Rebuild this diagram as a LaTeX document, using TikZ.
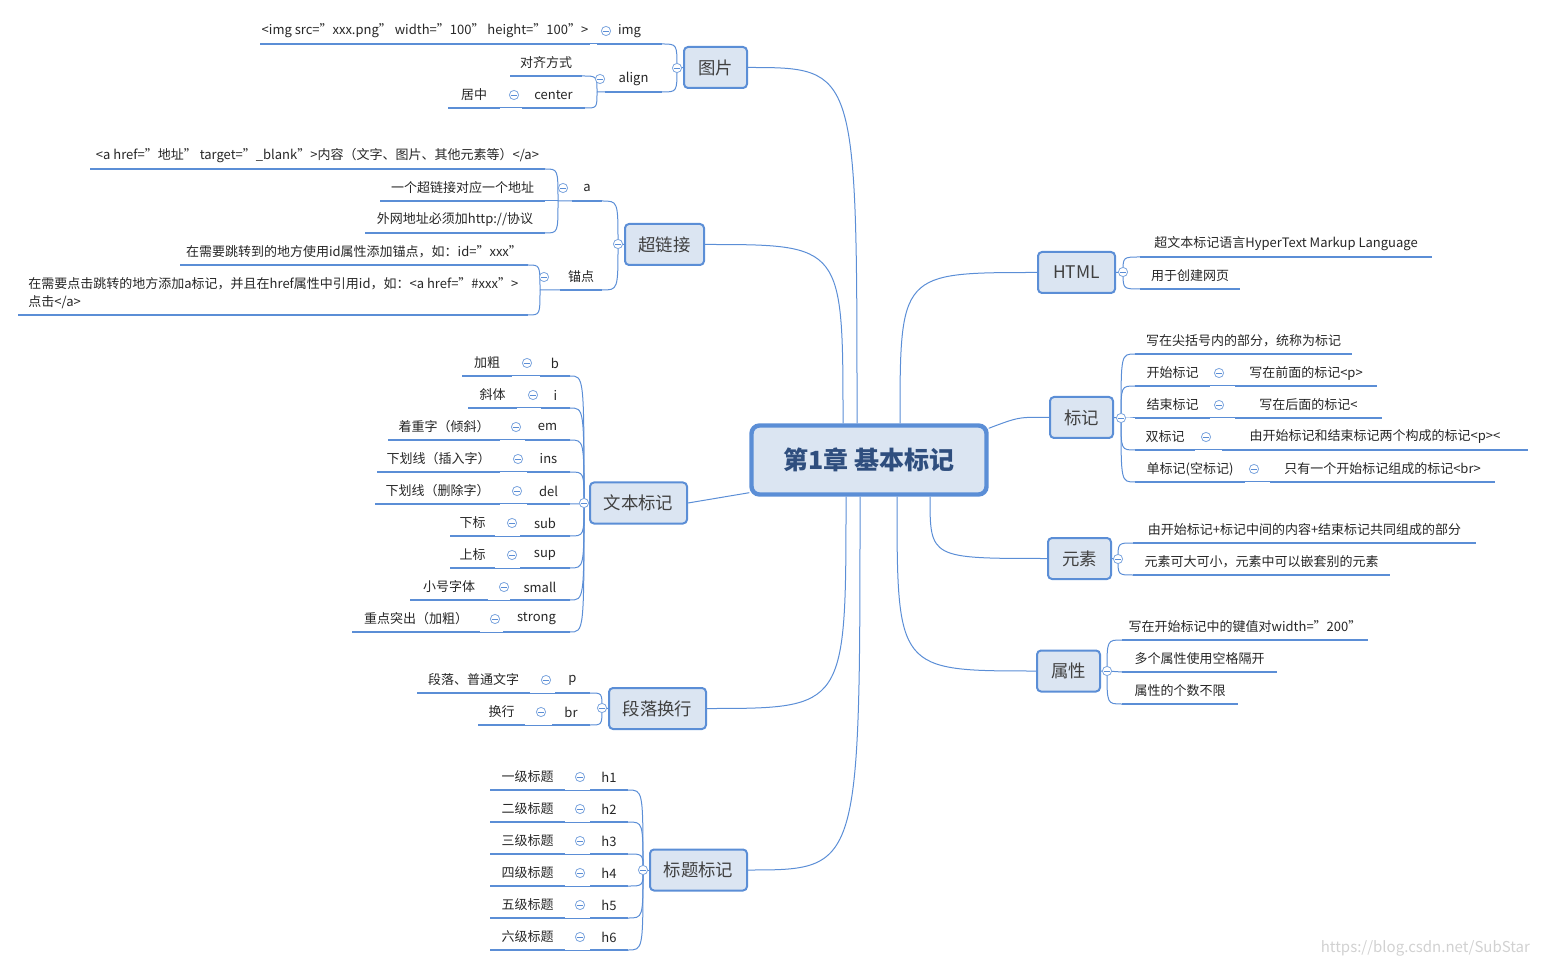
\documentclass[tikz,border=0pt]{standalone}
\usepackage{fontspec}
\setmainfont{Noto Sans CJK SC}
\usetikzlibrary{calc,positioning}
\definecolor{mline}{HTML}{5B8ED6}
\definecolor{mfill}{HTML}{DBE5F2}
\definecolor{mtext}{HTML}{2F4E7E}
% leaf: name, x1, x2, y of line, text
\newcommand{\leaf}[5]{%
  \coordinate (#1-l) at (#2,#4);
  \coordinate (#1-r) at (#3,#4);
  \draw[uline] (#1-l) -- (#1-r);
  \node[ltext] (#1) at ({(#2+#3)/2},{#4-13}) {#5};
}
\newcommand{\fold}[3]{\node[foldc] (#1) at (#2,#3) {};}

\begin{document}
\begin{tikzpicture}[x=0.5pt,y=-0.5pt]
  \tikzstyle{uline} = [draw=mline, line width=1.4pt]
  \tikzstyle{cline} = [draw=mline, line width=0.5pt]
  \tikzstyle{ltext} = [inner sep=0pt, font=\fontsize{6.5}{8}\selectfont, text=black!85]
  \tikzstyle{topic} = [draw=mline, fill=mfill, line width=1pt, rounded corners=2pt, inner sep=0pt,
                       minimum height=20.5pt, font=\fontsize{8.7}{10}\selectfont, text=black!75]
  \tikzstyle{central} = [draw=mline, fill=mfill, line width=2.2pt, rounded corners=4pt, inner sep=0pt,
                       minimum width=117.5pt, minimum height=34.5pt, font=\bfseries\fontsize{12.5}{14}\selectfont, text=mtext]
  \tikzstyle{foldc} = [circle, draw=mline!80, fill=white, line width=0.4pt, inner sep=0pt, minimum size=4.6pt,
                       path picture={\draw[mline, line width=0.4pt] ([xshift=1pt]path picture bounding box.west) -- ([xshift=-1pt]path picture bounding box.east);}]

  \useasboundingbox (0,0) rectangle (1546,967);

  % central topic and main topics
  \node[central] (ctr) at (869,460) {第1章 基本标记};
  \node[topic, minimum width=31.5pt] (tpic) at (715.5,67.5) {图片};
  \node[topic, minimum width=39.5pt] (tlnk) at (664.5,244.5) {超链接};
  \node[topic, minimum width=48.5pt] (ttxt) at (638.5,503) {文本标记};
  \node[topic, minimum width=48.5pt] (tpar) at (657.5,708.5) {段落换行};
  \node[topic, minimum width=48.5pt] (thd) at (698.5,870) {标题标记};
  \node[topic, minimum width=38.5pt] (thtm) at (1076.5,272.5) {HTML};
  \node[topic, minimum width=31.5pt] (tmk) at (1081.5,417.5) {标记};
  \node[topic, minimum width=31.5pt] (tel) at (1079.5,558.5) {元素};
  \node[topic, minimum width=31.5pt] (tat) at (1068.5,671) {属性};

  \coordinate (s-pic) at ([xshift=-6pt]ctr.north);
  \coordinate (s-lnk) at ([xshift=-13pt]ctr.north);
  \coordinate (s-txt) at ([yshift=2pt]ctr.south west);
  \coordinate (s-par) at ([xshift=-11.5pt]ctr.south);
  \coordinate (s-hd)  at ([xshift=-4.5pt]ctr.south);
  \coordinate (s-htm) at ([xshift=15.5pt]ctr.north);
  \coordinate (s-mk)  at ([yshift=-2.5pt]ctr.north east);
  \coordinate (s-el)  at ([xshift=30.5pt]ctr.south);
  \coordinate (s-at)  at ([xshift=14pt]ctr.south);

  \draw[cline] (s-pic) .. controls (s-pic |- tpic.east) .. (tpic.east);
  \draw[cline] (s-lnk) .. controls (s-lnk |- tlnk.east) .. (tlnk.east);
  \draw[cline] (s-txt) .. controls ($(s-txt)!0.5!(ttxt.east)$) .. (ttxt.east);
  \draw[cline] (s-par) .. controls (s-par |- tpar.east) .. (tpar.east);
  \draw[cline] (s-hd) .. controls (s-hd |- thd.east) .. (thd.east);
  \draw[cline] (s-htm) .. controls (s-htm |- thtm.west) .. (thtm.west);
  \draw[cline] (s-mk) .. controls ($(s-mk)!0.5!(tmk.west)+(0,-6)$) .. (tmk.west);
  \draw[cline] (s-el) .. controls (s-el |- tel.west) .. (tel.west);
  \draw[cline] (s-at) .. controls (s-at |- tat.west) .. (tat.west);

  % 图片
  \leaf{img}{597}{662}{44}{img}
  \leaf{imgtag}{260}{590}{44}{<img src="xxx.png" width="100" height="100">}
  \leaf{align}{605}{662}{92}{align}
  \leaf{alnote}{510}{582}{76}{对齐方式}
  \leaf{center}{522}{585}{108}{center}
  \leaf{juzhong}{448}{500}{108}{居中}
  \coordinate (j-align) at (597,92);
  \draw[cline] (imgtag-r) -- (img-l);
  \draw[cline] (juzhong-r) -- (center-l);
  \draw[cline] (alnote-r) .. controls (j-align |- alnote-r) .. (j-align) -- (align-l);
  \draw[cline] (center-r) .. controls (j-align |- center-r) .. (j-align);
  \coordinate (j-pic) at (677,68);
  \draw[cline] (img-r) .. controls (j-pic |- img-r) .. (j-pic) -- (tpic.west);
  \draw[cline] (align-r) .. controls (j-pic |- align-r) .. (j-pic);

  % 超链接
  \leaf{a}{572}{602}{201}{a}
  \leaf{atag}{90}{545}{169}{<a href="地址" target="\_blank">内容（文字、图片、其他元素等）</a>}
  \leaf{aone}{380}{545}{201}{一个超链接对应一个地址}
  \leaf{ahttp}{365}{545}{233}{外网地址必须加http://协议}
  \leaf{anchor}{560}{602}{290}{锚点}
  \leaf{anid}{180}{528}{265}{在需要跳转到的地方使用id属性添加锚点，如：id="xxx"}
  \coordinate (anref-l) at (18,315);
  \coordinate (anref-r) at (528,315);
  \draw[uline] (anref-l) -- (anref-r);
  \node[ltext, align=left, anchor=north west] (anref) at (28,277)
    {在需要点击跳转的地方添加a标记，并且在href属性中引用id，如：<a href="\#xxx">\\[1pt]点击</a>};
  \coordinate (j-a) at (558,201);
  \draw[cline] (atag-r) .. controls (j-a |- atag-r) .. (j-a) -- (a-l);
  \draw[cline] (aone-r) -- (j-a);
  \draw[cline] (ahttp-r) .. controls (j-a |- ahttp-r) .. (j-a);
  \coordinate (j-an) at (540,290);
  \draw[cline] (anid-r) .. controls (j-an |- anid-r) .. (j-an) -- (anchor-l);
  \draw[cline] (anref-r) .. controls (j-an |- anref-r) .. (j-an);
  \coordinate (j-lnk) at (618,244);
  \draw[cline] (a-r) .. controls (j-lnk |- a-r) .. (j-lnk) -- (tlnk.west);
  \draw[cline] (anchor-r) .. controls (j-lnk |- anchor-r) .. (j-lnk);

  % 文本标记
  \coordinate (j-txt) at (584,503);
  \draw[cline] (j-txt) -- (ttxt.west);
  \foreach \tg/\tx/\ty/\lx/\ll/\lr/\lt in {
      b/540/376/527/462/512/加粗,
      i/541/408/533/468/517/斜体,
      em/525/440/516/388/500/着重字（倾斜）,
      ins/527/472/518/377/500/下划线（插入字）,
      del/527/504/517/375/500/下划线（删除字）,
      sub/520/536/512/450/495/下标,
      sup/520/568/512/450/495/上标,
      small/510/600/504/410/488/小号字体,
      strong/503/632/495/352/480/重点突出（加粗）} {
    \leaf{\tg}{\tx}{570}{\ty}{\tg}
    \leaf{\tg-d}{\ll}{\lr}{\ty}{\lt}
    \draw[cline] (\tg-d-r) -- (\tg-l);
    \draw[cline] (\tg-r) .. controls (j-txt |- \tg-r) .. (j-txt);
    \fold{f-\tg}{\lx}{\ty-13}
  }

  % 段落换行
  \leaf{p}{555}{590}{693}{p}
  \leaf{pdesc}{417}{530}{693}{段落、普通文字}
  \leaf{br}{552}{590}{725}{br}
  \leaf{brdesc}{478}{525}{725}{换行}
  \draw[cline] (pdesc-r) -- (p-l);
  \draw[cline] (brdesc-r) -- (br-l);
  \coordinate (j-par) at (602,708);
  \draw[cline] (p-r) .. controls (j-par |- p-r) .. (j-par) -- (tpar.west);
  \draw[cline] (br-r) .. controls (j-par |- br-r) .. (j-par);

  % 标题标记
  \coordinate (j-hd) at (643,870);
  \draw[cline] (j-hd) -- (thd.west);
  \foreach \n/\lt in {1/一级标题, 2/二级标题, 3/三级标题, 4/四级标题, 5/五级标题, 6/六级标题} {
    \pgfmathsetmacro{\hy}{758+32*\n}
    \leaf{h\n}{590}{628}{\hy}{h\n}
    \leaf{h\n-d}{490}{565}{\hy}{\lt}
    \draw[cline] (h\n-d-r) -- (h\n-l);
    \draw[cline] (h\n-r) .. controls (j-hd |- h\n-r) .. (j-hd);
    \fold{f-h\n}{580}{\hy-13}
  }

  % HTML
  \leaf{hyper}{1140}{1432}{257}{超文本标记语言HyperText Markup Language}
  \leaf{web}{1140}{1240}{289}{用于创建网页}
  \coordinate (j-htm) at (1123,272);
  \draw[cline] (thtm.east) -- (j-htm) .. controls (j-htm |- hyper-l) .. (hyper-l);
  \draw[cline] (j-htm) .. controls (j-htm |- web-l) .. (web-l);

  % 标记
  \coordinate (j-mk) at (1121,418);
  \draw[cline] (tmk.east) -- (j-mk);
  \leaf{mkdef}{1135}{1352}{354}{写在尖括号内的部分，统称为标记}
  \draw[cline] (j-mk) .. controls (j-mk |- mkdef-l) .. (mkdef-l);
  \foreach \k/\ky/\kl/\kr/\kt/\fx/\dl/\dr/\dt in {
      st/386/1135/1210/开始标记/1219/1235/1377/写在前面的标记<p>,
      en/418/1135/1210/结束标记/1219/1235/1382/写在后面的标记</p>,
      db/450/1135/1195/双标记/1206/1222/1528/由开始标记和结束标记两个构成的标记<p></p>,
      sg/482/1135/1245/单标记(空标记)/1254/1270/1495/只有一个开始标记组成的标记<br>} {
    \leaf{\k}{\kl}{\kr}{\ky}{\kt}
    \leaf{\k-d}{\dl}{\dr}{\ky}{\dt}
    \draw[cline] (\k-r) -- (\k-d-l);
    \draw[cline] (j-mk) .. controls (j-mk |- \k-l) .. (\k-l);
    \fold{f-\k}{\fx}{\ky-13}
  }

  % 元素
  \leaf{elcomp}{1133}{1476}{543}{由开始标记+标记中间的内容+结束标记共同组成的部分}
  \leaf{elnest}{1133}{1390}{575}{元素可大可小，元素中可以嵌套别的元素}
  \coordinate (j-el) at (1118,559);
  \draw[cline] (tel.east) -- (j-el) .. controls (j-el |- elcomp-l) .. (elcomp-l);
  \draw[cline] (j-el) .. controls (j-el |- elnest-l) .. (elnest-l);

  % 属性
  \leaf{atkv}{1122}{1368}{640}{写在开始标记中的键值对width="200"}
  \leaf{atsp}{1122}{1277}{672}{多个属性使用空格隔开}
  \leaf{atnum}{1122}{1238}{704}{属性的个数不限}
  \coordinate (j-at) at (1107,671);
  \draw[cline] (tat.east) -- (j-at) .. controls (j-at |- atkv-l) .. (atkv-l);
  \draw[cline] (j-at) -- (atsp-l);
  \draw[cline] (j-at) .. controls (j-at |- atnum-l) .. (atnum-l);

  % fold markers
  \fold{f-pic}{677}{68}
  \fold{f-img}{606}{31}
  \fold{f-align}{600}{79}
  \fold{f-center}{514}{95}
  \fold{f-lnk}{618}{244}
  \fold{f-a}{563}{188}
  \fold{f-anchor}{544}{277}
  \fold{f-txt}{584}{503}
  \fold{f-par}{602}{708}
  \fold{f-p}{546}{680}
  \fold{f-br}{541}{712}
  \fold{f-hd}{643}{870}
  \fold{f-htm}{1123}{272}
  \fold{f-mk}{1121}{418}
  \fold{f-el}{1118}{559}
  \fold{f-at}{1107}{671}

  \node[font=\fontsize{7.5}{9}\selectfont, text=black!18, anchor=east] (wm) at (1537,948) {https://blog.csdn.net/SubStar};
\end{tikzpicture}
\end{document}
